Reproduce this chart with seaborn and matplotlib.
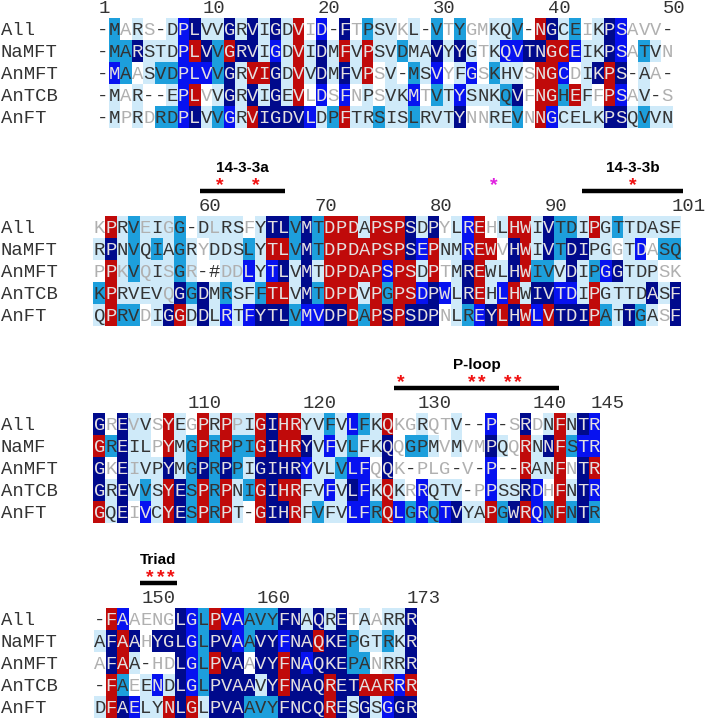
import matplotlib
matplotlib.use('Agg')
import matplotlib.pyplot as plt
import matplotlib.transforms as mtrans
from matplotlib.colors import ListedColormap
import pandas as pd
import seaborn as sns

# row names
names = ['All', 'NaMFT', 'AnMFT', 'AnTCB', 'AnFT']
names_b3 = ['All', 'NaMF', 'AnMFT', 'AnTCB', 'AnFT']

# shade codes: . white(grey text)  w white  l pale  g pale(grey text)  c cyan  b blue  n navy  r red
seq1 = ['-MARS-DPLVVGRVIGDVID-FTPSVKL-VTYGMKQV-NGCEIKPSAVV-',
        '-MARSTDPLVVGRVIGDVIDMFVPSVDMAVYYGTKQVTNGCEIKPSATVN',
        '-MAASVDPLVVGRVIGDVVDMFVPSV-MSVYFGSKHVSNGCDIKPS-AA-',
        '-MAR--EPLVVGRVIGEVLDSFNPSVKMTVTYSNKQVFNGHEFFPSAV-S',
        '-MPRDRDPLVVGRVIGDVLDPFTRSISLRVTYNNREVNNGCELKPSQVVN']
shade1 = ['wc.l.wlbnllnlnlnlr.bwn.cll.lwc.c..llcwrnlc.lnb...w',
          'wccnlllbrncrnnlblrlnlrlrllcllnlnl.lbbnnrrbllnb.cl.',
          'wbc.lccbbbcnlrrnlrlnlnlr.lwclb.lb.cll.rrb.lnrnwl.w',
          'wl.lwwlbr.lnlnlnlr.b.b.l.llb.clblllcn.rrcrl.rb.lw.',
          'wl.l.ccbnlcblrnnnnblcrllcllcllln..llc.rbllllnnlcll']
ticks1 = [1, 10, 20, 30, 40, 50]

seq2 = ['KPRVEIGG-DLRSFYTLVMTDPDAPSPSDPYLREHLHWIVTDIPGTTDASF',
        'RPNVQIAGRYDDSLYTLVMTDPDAPSPSEPNMREWVHWIVTDIPGGTDASQ',
        'PPKVQISGR-#DDLYTLVMTDPDAPSPSDPTMREWLHWIVVDIPGGTDPSK',
        'KPRVEVQGGDMRSFFTLVMTDPDVPGPSDPWLREHLHWIVTDIPGTTDASF',
        'QPRVDIGGDDLRTFYTLVMVDPDAPSPSDPNLREYLHWLVTDIPATTGASF']
shade2 = ['.rlcglgcwlgll.lnncncrrrlrrrnln.lbr.lrrlncclrlclllll',
          'lnlclclcl.lllclrrcncrrrrrrrnbrllbrr.nrlncnnll.lb.cc',
          '.rgcglgcgwwggblbnlnlrrrrrbrrlr.lnrllnrcclnlcbnlll..',
          'crllllgncnlcllcrrlncrrrlrcrrbnblnrlbrlnnbblrllllnln',
          'lrcc.lnrlnlblbnnncbbnnrcrnrnnn.lcbnrnrbrnnnrclncl.n']
ticks2 = [60, 70, 80, 90, 101]

seq3 = ['GREVVSYEGPRPPIGIHRYVFVLFKQKGRQTV--P-SRDNFNTR',
        'GREILPYMGPRPPIGIHRYVFVLFKQQGPMVMVMPQQRNNFSTR',
        'GKEIVPYMGPRPPIGIHRYVLVLFQQK-PLG-V-P--RANFNTR',
        'GREVVSYESPRPNIGIHRFVFVLFKQKRRQTV-PPSSRDHFNTR',
        'GQEIVCYESPRPT-GIHRFVFVLFRQLGRQTVYAPGWRQNFNTR']
shade3 = ['n.ngl.rl.rlrglrnrrllclbclr..l..lwwbw.n.lrlnb',
          'rcnll.rlcrcrccrnrrnlblclln.ccl.l..nl.rlnrcbb',
          'n.ngllnlcncnclnnnnbllcbb.n.w...w.wbwwrllr.nr',
          'nlnlclrncrcrlcrnrrllblnblrl.blllw.bllnb.rlnb',
          'rln.blrncrcrlwrnnrlcllbbcrbcbcbnllrcnrbcrcnc']
ticks3 = [110, 120, 130, 140, 145]

seq4 = ['-FAAENGLGLPVAAVYFNAQRETAARRR',
        'AFAAHYGLGLPVAAVYFNAQKEPGTRKR',
        'AFAA-HDLGLPVAAVYFNAQKEPANRRR',
        '-FAEENDLGLPVAAVYFNAQRETAARRR',
        'DFAELYNLGLPVAAVYFNCQRESGSGGR']
shade4 = ['wrb....nbcrbbcccnnlnln.l.lln',
          'lnrn.nnnbcnnbcnnbnnrnncllcln',
          '.nrlw..nbcrnn.nnrnbnnncc.lln',
          'wrc.lblnbcnnnnlnrnnnrnnrrrbr',
          'lrnbllrnrlnnncccnnnnrnlnlbnn']
ticks4 = [150, 160, 173]

# feature bars: (block, label, bar start, bar end, star positions, star colour)
features = [
    (2, '14-3-3a', 60.25, 67.6, [61.98, 65.1], 'red'),
    (2, '', None, None, [85.77], 'magenta'),
    (2, '14-3-3b', 93.4, 102.2, [97.8], 'red'),
    (3, 'P-loop', 128.1, 142.4, [128.7, 134.85, 135.7, 138.0, 138.8], 'red'),
    (4, 'Triad', 150.0, 153.2, [150.86, 151.79, 152.66], 'red'),
]

level = {'.': 0, 'w': 0, 'l': 1, 'g': 1, 'c': 2, 'b': 3, 'n': 4, 'r': 5}
cmap = ListedColormap(['#ffffff', '#cfeaf9', '#1d9fdc', '#0712f0', '#000a8c', '#c00a0a'])
DARK, GREY, LIGHT = '#333333', '#b0b0b0', '#e4e0e0'
txtcol = {'.': GREY, 'g': GREY, 'w': DARK, 'l': DARK, 'c': DARK,
          'b': LIGHT, 'n': LIGHT, 'r': LIGHT}
MONO = 'Liberation Mono'
FS = 13.6
W, H = 709, 721
CW, RH = 11.52, 21.9

fig = plt.figure(figsize=(W / 100, H / 100), dpi=100)


def draw_block(top, left, seqs, shades, rows, start, ticks):
    n = len(seqs[0])
    ax = fig.add_axes([left / W, 1 - (top + 5 * RH) / H, n * CW / W, 5 * RH / H])
    mat = pd.DataFrame([[level[c] for c in s] for s in shades], index=rows)
    sns.heatmap(mat, cmap=cmap, vmin=-0.5, vmax=5.5, cbar=False,
                xticklabels=False, yticklabels=False, ax=ax)
    for i, (s, sh) in enumerate(zip(seqs, shades)):
        for j, (ch, code) in enumerate(zip(s, sh)):
            col = DARK if ch in '-#' else txtcol[code]
            ax.text(j + 0.5, i + 0.78, ch, ha='center', va='baseline',
                    color=col, fontsize=FS, family=MONO)
    tr = mtrans.blended_transform_factory(fig.transFigure, ax.transData)
    for i, nm in enumerate(rows):
        ax.text(0.001, i + 0.78, nm, transform=tr, ha='left', va='baseline',
                color=DARK, fontsize=FS, family=MONO)
    for t in ticks:
        ax.text(t - start + 0.15, -0.22, str(t), ha='left', va='baseline',
                color=DARK, fontsize=FS, family=MONO)
    return ax


axes = {}
axes[1] = draw_block(18, 97, seq1, shade1, names, 1, ticks1)
axes[2] = draw_block(216, 93.5, seq2, shade2, names, 51, ticks2)
axes[3] = draw_block(413, 93.5, seq3, shade3, names_b3, 102, ticks3)
axes[4] = draw_block(608, 94, seq4, shade4, names, 146, ticks4)
starts = {1: 1, 2: 51, 3: 102, 4: 146}

for blk, label, b0, b1, stars, scol in features:
    ax = axes[blk]
    s0 = starts[blk]
    if b0 is not None:
        ax.plot([b0 - s0, b1 - s0], [-1.15, -1.15], color='black', lw=3.2,
                solid_capstyle='butt', clip_on=False)
    if label:
        cx = (b0 + b1) / 2 - s0
        ax.text(cx, -2.2, label, ha='center', va='center', fontsize=11,
                fontweight='bold', family='Liberation Sans', color='black')
    c = '#f01010' if scol == 'red' else '#e020e0'
    for st in stars:
        ax.text(st - s0, -1.4, '*', ha='center', va='center', fontsize=14,
                fontweight='bold', family='Liberation Sans', color=c)

fig.savefig('out.png', dpi=100)
